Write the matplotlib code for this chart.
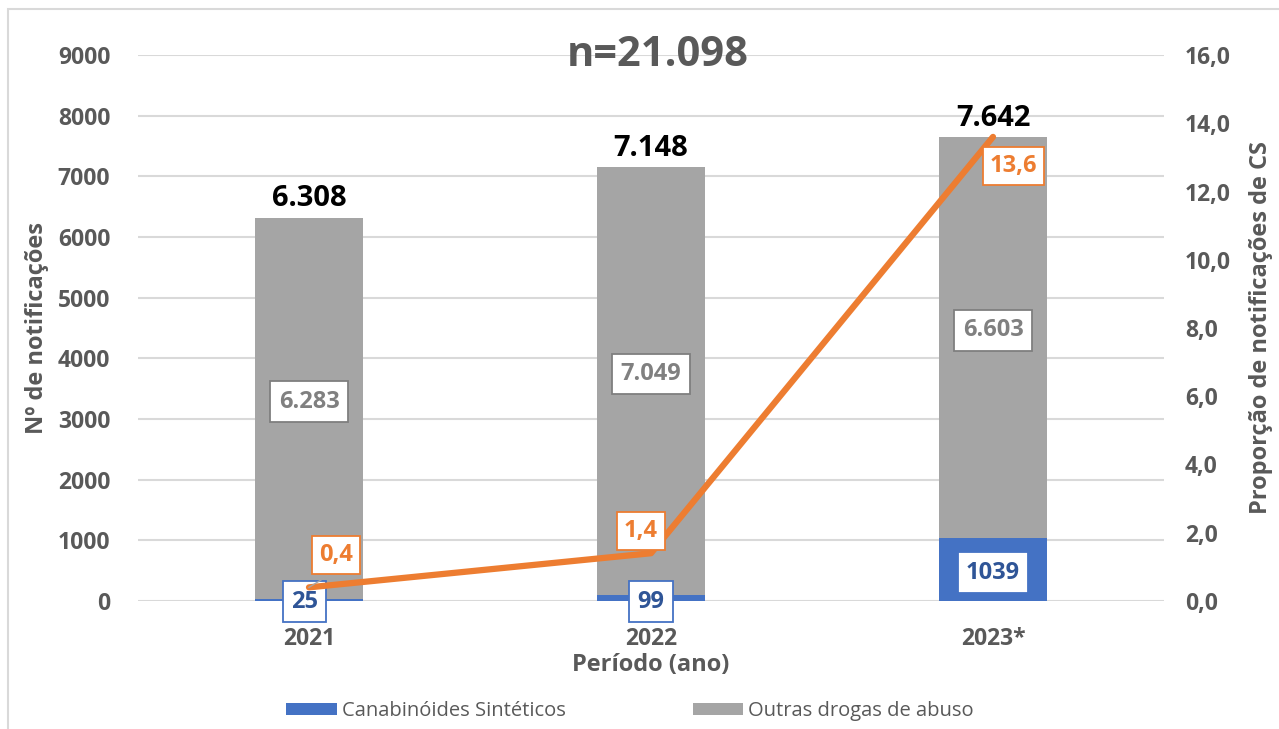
import matplotlib.pyplot as plt
from matplotlib.patches import Rectangle

# data
years = ['2021', '2022', '2023*']
cs_counts = [25, 99, 1039]
other_counts = [6283, 7049, 6603]
cs_share = [0.4, 1.4, 13.6]

totals = [a + b for a, b in zip(cs_counts, other_counts)]

BLUE = '#4472c4'
GRAY = '#a5a5a5'
ORANGE = '#ed7d31'
DARK = '#595959'
GRID = '#d9d9d9'

plt.rcParams['font.family'] = ['Open Sans', 'DejaVu Sans']


def br(n):
    return '{:,}'.format(n).replace(',', '.')


def dec(v):
    return '{:.1f}'.format(v).replace('.', ',')


fig = plt.figure(figsize=(12.79, 7.29), dpi=100)
fig.patches.append(Rectangle((8 / 1279, -0.01), 1.1, 1 - 9 / 729 + 0.01,
                             transform=fig.transFigure, fill=False,
                             edgecolor=GRID, linewidth=1.5))

ax = fig.add_axes([138 / 1279, 1 - 601 / 729, 1026 / 1279, 546 / 729])
x = list(range(len(years)))
width = 0.313

ax.bar(x, cs_counts, width, color=BLUE, label='Canabinóides Sintéticos', zorder=2)
ax.bar(x, other_counts, width, bottom=cs_counts, color=GRAY,
       label='Outras drogas de abuso', zorder=2)

ax.set_xlim(-0.5, 2.5)
ax.set_ylim(0, 9000)
ax.set_yticks(range(0, 9001, 1000))
ax.grid(axis='y', color=GRID, linewidth=1.5, zorder=0)
ax.set_axisbelow(True)
for s in ax.spines.values():
    s.set_visible(False)
ax.set_xticks(x)
ax.set_xticklabels(years, fontweight='bold', fontsize=16.5, color=DARK)
ax.set_yticklabels([str(v) for v in range(0, 9001, 1000)], fontweight='bold',
                   fontsize=16.5, color=DARK)
ax.tick_params(axis='y', length=0, pad=20)
ax.tick_params(axis='x', length=0, pad=19)
ax.set_xlabel('Período (ano)', fontsize=17, fontweight='bold', color=DARK, labelpad=1)
ax.set_ylabel('Nº de notificações', fontsize=17, fontweight='bold', color=DARK, labelpad=6)

ax2 = ax.twinx()
ax2.set_ylim(0, 16)
ax2.set_yticks(range(0, 17, 2))
ax2.set_yticklabels([dec(v) for v in range(0, 17, 2)], fontweight='bold',
                    fontsize=16.5, color=DARK)
for s in ax2.spines.values():
    s.set_visible(False)
ax2.tick_params(length=0, pad=15)
ax2.set_ylabel('Proporção de notificações de CS', fontsize=17, fontweight='bold',
               color=DARK, labelpad=13)
ax2.plot(x, cs_share, color=ORANGE, linewidth=4.5, solid_capstyle='round', zorder=3)

# totals on top
for i, t in enumerate(totals):
    ax.text(i, t + 80, br(t), ha='center', va='bottom', fontsize=21,
            fontweight='bold', color='black')

# other drugs labels
for i, (c, o) in enumerate(zip(cs_counts, other_counts)):
    ax.text(i, c + o / 2 + 120, br(o), ha='center', va='center', fontsize=17,
            fontweight='bold', color='#808080', zorder=5,
            bbox=dict(boxstyle='square,pad=0.35', fc='white', ec='#7f7f7f', lw=1.3))

# CS counts labels
cs_pos = [(-0.013, -10), (0.0, -10), (0.0, 1039 / 2 - 50)]
for i, c in enumerate(cs_counts):
    dx, yy = cs_pos[i]
    ax.text(i + dx, yy, str(c), ha='center', va='center', fontsize=17,
            fontweight='bold', color='#2f5597', zorder=6,
            bbox=dict(boxstyle='square,pad=0.35', fc='white', ec=BLUE, lw=1.3))

# leader line for the first point
ax2.plot([0.065, 0.0], [0.8, 0.4], color='#a6a6a6', linewidth=1, zorder=4)

# share labels
share_pos = [(0.08, 1.35), (-0.03, 2.05), (0.06, 12.75)]
for i, v in enumerate(cs_share):
    px, py = share_pos[i]
    ax2.text(i + px, py, dec(v), ha='center', va='center', fontsize=17,
             fontweight='bold', color=ORANGE, zorder=7,
             bbox=dict(boxstyle='square,pad=0.3', fc='white', ec=ORANGE, lw=1.3))

fig.text(658 / 1279, 1 - 55 / 729, 'n=21.098', ha='center', va='center',
         fontsize=30, fontweight='bold', color=DARK)

h1, l1 = ax.get_legend_handles_labels()
fig.legend(h1, l1, loc='center', bbox_to_anchor=(630 / 1279, 1 - 711 / 729), ncol=2,
           frameon=False, fontsize=14.5, labelcolor=DARK, handlelength=2.5,
           handleheight=0.6, columnspacing=6.3, handletextpad=0.25)

fig.savefig('out.png', dpi=100)
